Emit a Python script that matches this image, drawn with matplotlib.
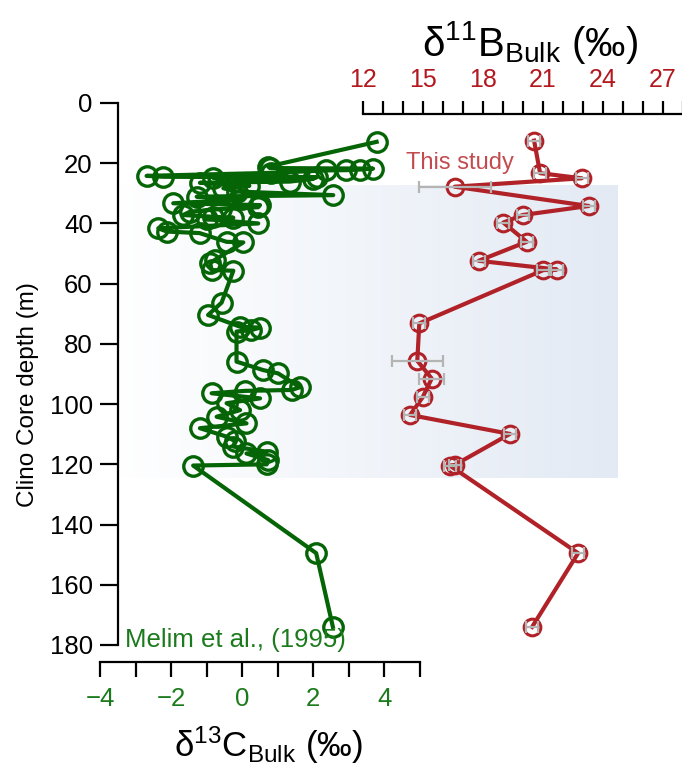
import numpy as np
import matplotlib
matplotlib.use('Agg')
import matplotlib.pyplot as plt
from matplotlib.colors import LinearSegmentedColormap
from matplotlib.transforms import blended_transform_factory

plt.rcParams['font.family'] = ['Liberation Sans', 'DejaVu Sans']
plt.rcParams['mathtext.fontset'] = 'custom'
plt.rcParams['mathtext.rm'] = 'Liberation Sans'
plt.rcParams['mathtext.it'] = 'Liberation Sans:italic'

# ---------------- data: d13C bulk (Melim et al., 1995) ----------------
c_depth = [12.9, 21.1, 21.6, 21.8, 22.1, 22.3, 22.4, 23.2, 24.2, 24.5, 24.7, 24.9,
           25.2, 26.1, 26.5, 27.5, 28.3, 29.4, 30.6, 31.1, 32.0, 33.3, 33.9, 34.6,
           35.2, 36.1, 37.2, 37.8, 38.1, 38.6, 40.0, 41.6, 42.7, 43.2, 46.1, 46.3,
           52.1, 53.2, 55.5, 55.7, 66.3, 70.4, 74.3, 74.6, 75.4, 75.9, 85.9, 88.7,
           89.8, 94.4, 95.3, 95.6, 96.4, 98.1, 99.7, 102.0, 104.2, 106.4, 108.0,
           110.8, 112.3, 114.1, 115.8, 116.4, 118.6, 120.0, 120.4, 149.5, 174.0]
d13c = [3.78, 0.73, 0.78, 3.68, 3.30, 2.93, 2.37, 0.80, -2.69, -2.22, 2.09, -0.81,
        2.00, 1.34, -1.19, 0.20, -0.53, -0.16, 2.56, -1.28, 0.00, -1.94, 0.50, 0.45,
        -0.60, -1.47, -1.66, -0.81, -0.25, -1.00, 0.45, -2.36, -2.12, -1.20, -0.44, 0.03,
        -0.77, -0.90, -0.86, -0.25, -0.58, -0.96, -0.06, 0.50, 0.26, -0.16, -0.16, 0.59,
        1.01, 1.62, 1.39, 0.08, -0.86, 0.50, -0.44, -0.06, -0.72, 0.12, -1.19,
        -0.44, -0.20, -0.25, 0.69, 0.12, 0.73, 0.69, -1.38, 2.08, 2.55]

# ---------------- data: d11B bulk (this study) ----------------
b_depth = [12.5, 23.3, 25.0, 27.8, 34.2, 37.2, 39.7, 46.1, 52.4, 55.3, 55.5,
           73.2, 85.6, 91.5, 97.7, 103.6, 109.9, 120.2, 120.4, 149.5, 174.0]
d11b = [20.57, 20.87, 22.95, 16.6, 23.3, 20.0, 19.03, 20.2, 17.8, 21.7, 21.03,
        14.83, 14.73, 15.45, 15.0, 14.37, 19.36, 16.6, 16.36, 22.77, 20.47]
d11b_err = [0.3, 0.3, 0.3, 1.8, 0.3, 0.3, 0.3, 0.3, 0.3, 0.3, 0.3,
            0.3, 1.27, 0.63, 0.3, 0.3, 0.3, 0.3, 0.3, 0.3, 0.3]

shade_top, shade_bottom = 27.5, 124.5

c_ticks = list(range(-4, 6))
c_labels = ['\u22124', '', '\u22122', '', '0', '', '2', '', '4', '']
b_ticks = list(range(12, 29))
b_labels = [str(t) if t % 3 == 0 and t < 28 else '' for t in b_ticks]
depth_ticks = list(range(0, 181, 20))

green = '#056405'
green_txt = '#1b7a1b'
red = '#b02228'
red_txt = '#b3181f'

W, H = 682, 770
fig = plt.figure(figsize=(W / 100, H / 100), dpi=100)

ax = fig.add_axes([100 / W, 1 - 645 / H, 320 / W, 542 / H])
ax2 = fig.add_axes([362.7 / W, 1 - 645 / H, 320 / W, 542 / H], sharey=ax)
ax2.patch.set_visible(False)
ax.patch.set_visible(False)

# background shading (gradient white -> light blue)
cmap = LinearSegmentedColormap.from_list('shade', ['#ffffff', '#e3eaf4'])
tr = blended_transform_factory(fig.transFigure, ax.transData)
ax.imshow(np.linspace(0, 1, 256).reshape(1, -1), cmap=cmap, aspect='auto',
          extent=[110 / W, 618 / W, shade_bottom, shade_top], transform=tr,
          clip_on=False, zorder=0)

# ---------------- green series ----------------
ax.plot(d13c, c_depth, '-o', color=green, lw=3.0, ms=14, mfc='none', mew=2.4,
        clip_on=False, zorder=3)
ax.set_xlim(-4, 5)
ax.set_ylim(180, 0)
ax.set_xticks(c_ticks)
ax.set_xticklabels(c_labels)
ax.set_yticks(depth_ticks)
for s in ['top', 'right']:
    ax.spines[s].set_visible(False)
ax.spines['left'].set_position(('data', -3.5))
ax.spines['left'].set_bounds(0, 180)
ax.spines['bottom'].set_position(('outward', 12.5))
ax.spines['bottom'].set_bounds(-4, 5)
for s in ['left', 'bottom']:
    ax.spines[s].set_linewidth(1.6)
ax.tick_params(axis='y', direction='out', length=13, width=1.6, labelsize=18.5, pad=5)
ax.tick_params(axis='x', direction='out', length=10.5, width=1.6, labelsize=18.5,
               pad=7, labelcolor=green_txt)
ax.text(-3.3, 178.2, 'Melim et al., (1995)', color=green_txt, fontsize=18.5,
        va='center', ha='left')

# ---------------- red series ----------------
ax2.plot(d11b, b_depth, '-o', color=red, lw=3.0, ms=12, mfc='none', mew=2.2,
         clip_on=False, zorder=3)
ax2.errorbar(d11b, b_depth, xerr=d11b_err, fmt='none', ecolor='#b4b4b4',
             elinewidth=1.6, capsize=4, capthick=1.6, zorder=4, clip_on=False)
ax2.set_xlim(12, 28)
ax2.xaxis.set_ticks_position('top')
ax2.set_xticks(b_ticks)
ax2.set_xticklabels(b_labels)
for s in ['left', 'right', 'bottom']:
    ax2.spines[s].set_visible(False)
ax2.spines['top'].set_position(('outward', -7.9))
ax2.spines['top'].set_linewidth(1.6)
ax2.tick_params(axis='y', left=False, labelleft=False)
ax2.tick_params(axis='x', direction='out', length=9.5, width=1.6, labelsize=18,
                pad=6, labelcolor=red_txt)
ax2.text(16.87, 19.9, 'This study', color='#c34b50', fontsize=17,
         ha='center', va='center')

# ---------------- labels ----------------
fig.text(530 / W, 1 - 42 / H, r'$\mathrm{\delta^{11}B_{Bulk}}$ (‰)', fontsize=29,
         ha='center', va='center')
fig.text(268 / W, 1 - 745 / H, r'$\mathrm{\delta^{13}C_{Bulk}}$ (‰)', fontsize=25,
         ha='center', va='center')
fig.text(28 / W, 1 - 395 / H, 'Clino Core depth (m)', fontsize=17.5,
         rotation=90, ha='center', va='center')

plt.savefig('out.png', dpi=100)
